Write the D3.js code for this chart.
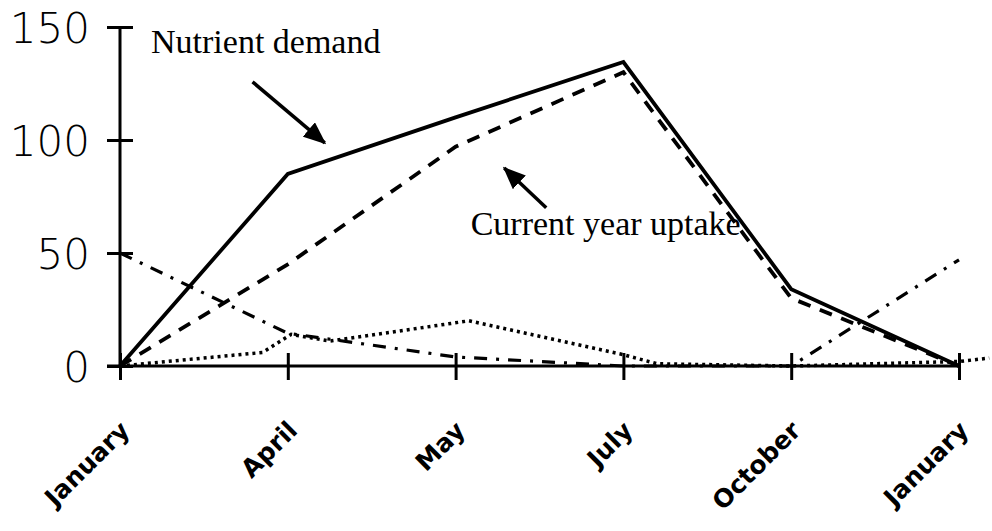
<!DOCTYPE html>
<html>
<head>
<meta charset="utf-8">
<script src="https://cdn.jsdelivr.net/npm/d3@7"></script>
<style>
  body { margin: 0; background: #fff; }
  svg { display: block; }
</style>
</head>
<body>
<div class="chart"></div>
<script>
// tick labels and data

var months = ["January", "April", "May", "July", "October", "January"];
var y_ticks = [0, 50, 100, 150];

var demand = [0, 85, 110, 134.5, 34, 0];
var uptake = [0, 45, 97, 130, 30, 0];
var dashdot = [50, 14.5, 4, 0, 0, 47];

// the dotted series has a few bends that fall between the months
var dotted_x = [0, 0.85, 1.02, 1.25, 2.08, 3, 3.2, 4, 5, 5.18];
var dotted_y = [0, 6, 14, 11, 20, 5, 1, 0, 2, 3.5];

var width = 992, height = 531;
var margin = {top: 27, right: 33, bottom: 165, left: 120};

var svg = d3.select('.chart')
    .append('svg')
        .attr('width', width)
        .attr('height', height);

var x = d3.scaleLinear()
    .domain([0, months.length - 1])
    .range([margin.left, width - margin.right]);

var y = d3.scaleLinear()
    .domain([0, 150])
    .range([height - margin.bottom, margin.top]);

// axes
var y_axis = svg.append('g')
    .attr('transform', 'translate(' + margin.left + ',0)')
    .call(d3.axisLeft(y).tickValues(y_ticks).tickSize(13).tickPadding(17));

y_axis.select('.domain').remove();
y_axis.selectAll('.tick line')
    .attr('x1', -13).attr('x2', 13)
    .attr('stroke', '#000').attr('stroke-width', 3);
y_axis.selectAll('.tick text')
    .attr('dy', '0.38em')
    .style('font-family', '"DejaVu Sans", sans-serif')
    .style('font-weight', 200)
    .style('font-size', '42px')
    .attr('fill', '#000');

var x_axis = svg.append('g')
    .attr('transform', 'translate(0,' + y(0) + ')')
    .call(d3.axisBottom(x).tickValues(d3.range(months.length)).tickFormat('').tickSize(14));

x_axis.select('.domain').remove();
x_axis.selectAll('.tick line')
    .attr('y1', -13).attr('y2', 14)
    .attr('stroke', '#000').attr('stroke-width', 3);

svg.append('line')
    .attr('x1', x(0)).attr('x2', x(0))
    .attr('y1', y(150)).attr('y2', y(0))
    .attr('stroke', '#000').attr('stroke-width', 3);

svg.append('line')
    .attr('x1', x(0) - 13).attr('x2', x(months.length - 1))
    .attr('y1', y(0)).attr('y2', y(0))
    .attr('stroke', '#000').attr('stroke-width', 3);

svg.selectAll('.month')
    .data(months)
    .enter()
    .append('text')
        .attr('class', 'month')
        .attr('transform', function(d, i) { return 'translate(' + (x(i) + 11) + ',' + (y(0) + 66) + ') rotate(-45)'; })
        .attr('text-anchor', 'end')
        .style('font-family', '"DejaVu Sans", sans-serif')
        .style('font-weight', 700)
        .style('font-size', '25px')
        .text(function(d) { return d; });

// lines
var line = d3.line()
    .x(function(d, i) { return x(i); })
    .y(function(d) { return y(d); });

var dot_line = d3.line()
    .x(function(d) { return x(d[0]); })
    .y(function(d) { return y(d[1]); });

svg.append('path')
    .attr('d', dot_line(d3.zip(dotted_x, dotted_y)))
    .attr('fill', 'none')
    .attr('stroke', '#000')
    .attr('stroke-width', 3.5)
    .attr('stroke-dasharray', '3,4');

svg.append('path')
    .attr('d', line(dashdot))
    .attr('fill', 'none')
    .attr('stroke', '#000')
    .attr('stroke-width', 3.2)
    .attr('stroke-dasharray', '13,9,3,9');

svg.append('path')
    .attr('d', line(uptake))
    .attr('fill', 'none')
    .attr('stroke', '#000')
    .attr('stroke-width', 3.8)
    .attr('stroke-dasharray', '13,10');

svg.append('path')
    .attr('d', line(demand))
    .attr('fill', 'none')
    .attr('stroke', '#000')
    .attr('stroke-width', 3.8);

// annotations with arrows
svg.append('defs').append('marker')
    .attr('id', 'head')
    .attr('viewBox', '0 0 12 10')
    .attr('refX', 11).attr('refY', 5)
    .attr('markerWidth', 6.5).attr('markerHeight', 5.4)
    .attr('markerUnits', 'strokeWidth')
    .attr('orient', 'auto')
    .append('path')
        .attr('d', 'M0,0 L12,5 L0,10 Z')
        .attr('fill', '#000');

var notes = [
    {text: 'Nutrient demand', tx: 0.185, ty: 138.5, from: [0.79, 125.7], to: [1.22, 98.7]},
    {text: 'Current year uptake', tx: 2.09, ty: 58, from: [2.54, 70], to: [2.29, 87.6]}
];

svg.selectAll('.note')
    .data(notes)
    .enter()
    .append('text')
        .attr('class', 'note')
        .attr('x', function(d) { return x(d.tx); })
        .attr('y', function(d) { return y(d.ty); })
        .style('font-family', '"Liberation Serif", serif')
        .style('font-size', '34px')
        .text(function(d) { return d.text; });

svg.selectAll('.arrow')
    .data(notes)
    .enter()
    .append('line')
        .attr('class', 'arrow')
        .attr('x1', function(d) { return x(d.from[0]); })
        .attr('y1', function(d) { return y(d.from[1]); })
        .attr('x2', function(d) { return x(d.to[0]); })
        .attr('y2', function(d) { return y(d.to[1]); })
        .attr('stroke', '#000')
        .attr('stroke-width', 3.5)
        .attr('marker-end', 'url(#head)');
</script>
</body>
</html>
